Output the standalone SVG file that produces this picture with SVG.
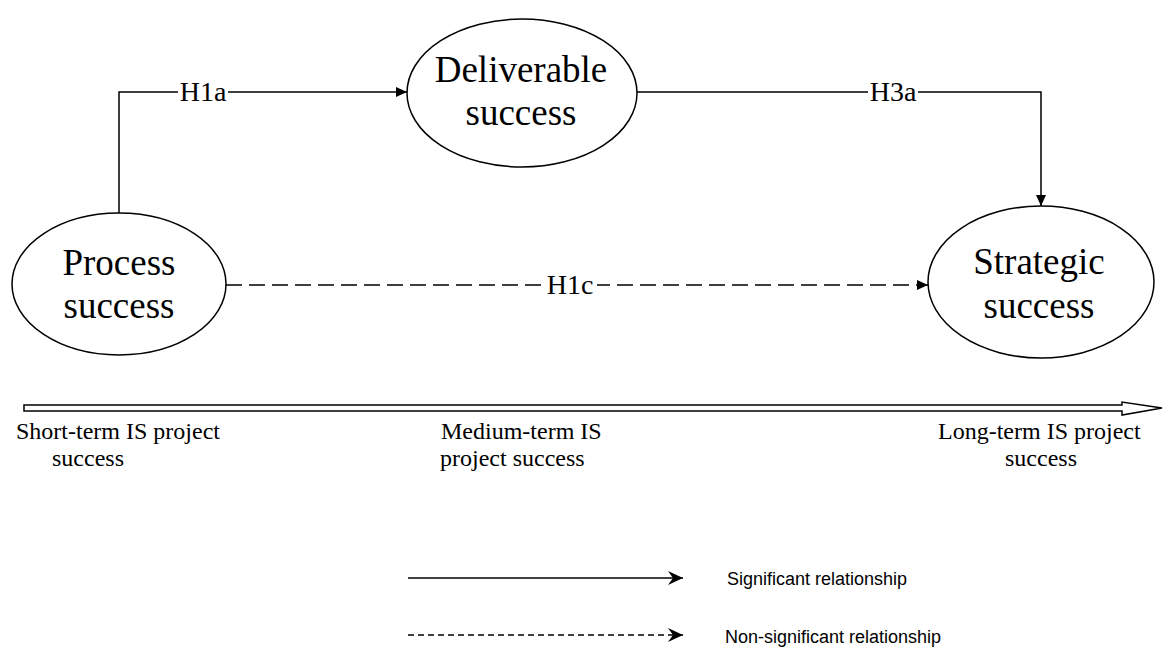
<svg xmlns="http://www.w3.org/2000/svg" width="1164" height="651" viewBox="0 0 1164 651">
<style>
.node{fill:#fff;stroke:#000;stroke-width:1.5}
.nt{font-family:"Liberation Serif","Times New Roman",serif;font-size:37px;fill:#000;text-anchor:middle}
.lbl{font-family:"Liberation Serif","Times New Roman",serif;font-size:28px;fill:#000;text-anchor:middle}
.tt{font-family:"Liberation Serif","Times New Roman",serif;font-size:24px;fill:#000}
.lg{font-family:"Liberation Sans",Arial,sans-serif;font-size:18px;fill:#000}
.edge{fill:none;stroke:#000;stroke-width:1.5}
</style>
<defs>
<marker id="tri" markerWidth="12" markerHeight="10" refX="11" refY="5" orient="auto" markerUnits="userSpaceOnUse">
<path d="M0,0 L11,5 L0,10 Z" fill="#000"/>
</marker>
<marker id="stealth" markerWidth="16" markerHeight="14" refX="15" refY="7" orient="auto" markerUnits="userSpaceOnUse">
<path d="M0,0 L15,7 L0,14 L5,7 Z" fill="#000"/>
</marker>
</defs>
<g id="connectors">
<polyline class="edge" points="119,213 119,92 407,92" marker-end="url(#tri)"/>
<polyline class="edge" points="637,92 1041,92 1041,206" marker-end="url(#tri)"/>
<line class="edge" x1="226" y1="285" x2="928" y2="285" stroke-dasharray="16 7" marker-end="url(#tri)"/>
<rect x="178" y="78" width="50" height="28" fill="#fff"/>
<text class="lbl" x="203" y="101">H1a</text>
<rect x="868" y="78" width="50" height="28" fill="#fff"/>
<text class="lbl" x="893" y="101">H3a</text>
<rect x="543" y="271" width="54" height="28" fill="#fff"/>
<text class="lbl" x="570" y="294">H1c</text>
</g>
<g id="deliverable">
<ellipse class="node" cx="522" cy="93" rx="115" ry="74"/>
<text class="nt" x="521" y="82">Deliverable</text>
<text class="nt" x="521" y="125">success</text>
</g>
<g id="process">
<ellipse class="node" cx="119" cy="284" rx="107" ry="71"/>
<text class="nt" x="119" y="275">Process</text>
<text class="nt" x="119" y="318">success</text>
</g>
<g id="strategic">
<ellipse class="node" cx="1041" cy="282" rx="113" ry="76"/>
<text class="nt" x="1039" y="274">Strategic</text>
<text class="nt" x="1039" y="318">success</text>
</g>
<g id="timeline">
<polygon points="24,405 1122,405 1122,402 1162,408 1122,415 1122,411 24,411" fill="#fff" stroke="#000" stroke-width="1.5"/>
<text class="tt" x="16" y="439">Short-term IS project</text>
<text class="tt" x="52" y="466">success</text>
<text class="tt" x="441" y="439">Medium-term IS</text>
<text class="tt" x="440" y="466">project success</text>
<text class="tt" x="938" y="439">Long-term IS project</text>
<text class="tt" x="1005" y="466">success</text>
</g>
<g id="legend">
<line class="edge" x1="408" y1="578" x2="683" y2="578" marker-end="url(#stealth)"/>
<text class="lg" x="727" y="585">Significant relationship</text>
<line class="edge" x1="408" y1="635" x2="683" y2="635" stroke-dasharray="6 4" marker-end="url(#stealth)"/>
<text class="lg" x="725" y="643">Non-significant relationship</text>
</g>
</svg>
